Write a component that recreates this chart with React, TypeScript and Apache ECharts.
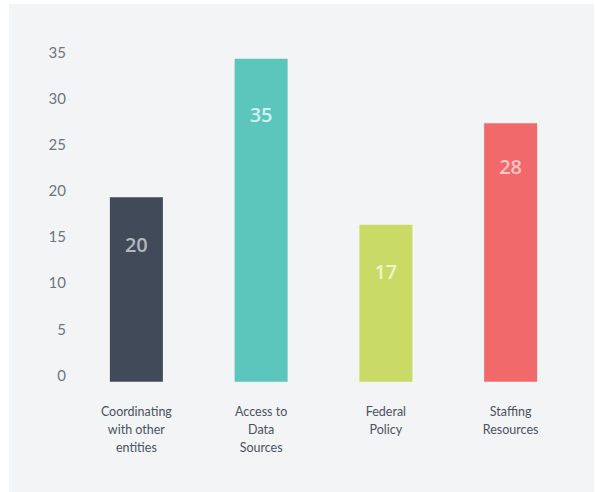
import React, { useEffect, useRef } from "react";
import * as echarts from "echarts";

const categories = [
  "Coordinating\nwith other\nentities",
  "Access to\nData\nSources",
  "Federal\nPolicy",
  "Staffing\nResources",
];
const values = [20, 35, 17, 28];
const yTicks = { min: 0, max: 35, interval: 5 };

const barColors = ["#414a58", "#5cc5bc", "#c9da67", "#f2696c"];
const labelColors = ["#b1b6bf", "#d3f0ed", "#eef5c6", "#fcc6c3"];
const labelDistances = [37, 46, 37, 33];

export default function App() {
  const ref = useRef<HTMLDivElement>(null);
  useEffect(() => {
    if (!ref.current) return;
    const chart = echarts.init(ref.current, undefined, { renderer: "svg" });
    chart.setOption({
      animation: false,
      backgroundColor: "#ffffff",
      graphic: [
        {
          type: "rect",
          silent: true,
          z: -10,
          shape: { x: 9, y: 4, width: 585, height: 488 },
          style: { fill: "#f3f4f6" },
        },
      ],
      grid: { left: 74, right: 22, top: 58.7, bottom: 110.3, containLabel: false },
      xAxis: {
        type: "category",
        data: categories,
        axisLine: { show: false },
        axisTick: { show: false },
        axisLabel: {
          color: "#4a5260",
          fontSize: 12.5,
          lineHeight: 18,
          margin: 21,
          fontFamily: "Lato",
          interval: 0,
        },
      },
      yAxis: {
        type: "value",
        min: yTicks.min,
        max: yTicks.max,
        interval: yTicks.interval,
        axisLine: { show: false },
        axisTick: { show: false },
        splitLine: { show: false },
        axisLabel: {
          color: "#6e7480",
          fontSize: 15,
          margin: 8,
          fontFamily: "Lato",
          verticalAlign: "bottom",
          lineHeight: 14,
        },
      },
      series: [
        {
          type: "bar",
          barWidth: 53,
          data: values.map((v, i) => ({
            value: v,
            itemStyle: { color: barColors[i] },
            label: { color: labelColors[i], distance: labelDistances[i] },
          })),
          label: {
            show: true,
            position: "insideTop",
            fontSize: 20,
            fontWeight: 600,
            fontFamily: "Open Sans",
            lineHeight: 20,
          },
        },
      ],
    });
    return () => chart.dispose();
  }, []);
  return (
    <div
      ref={ref}
      style={{ position: "fixed", left: 0, top: 0, width: 595, height: 492 }}
    />
  );
}
